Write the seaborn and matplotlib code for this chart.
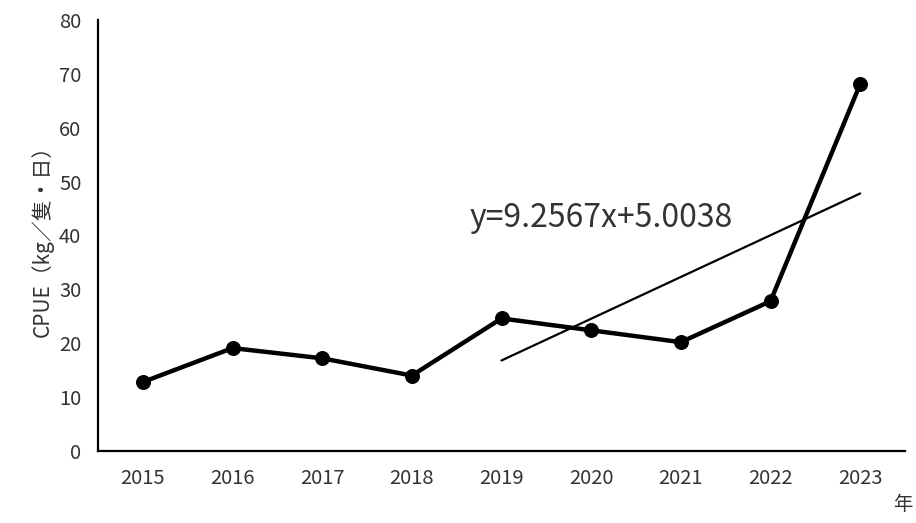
import numpy as np
import pandas as pd
import matplotlib
matplotlib.use('Agg')
import matplotlib.pyplot as plt
import seaborn as sns

# data
years = ['2015', '2016', '2017', '2018', '2019', '2020', '2021', '2022', '2023']
cpue = [12.8, 19.1, 17.2, 14.0, 24.6, 22.4, 20.2, 27.8, 68.1]
trend_years = ['2019', '2023']
trend_vals = [16.8, 47.8]
trend_label = 'y=9.2567x+5.0038'
y_ticks = [0, 10, 20, 30, 40, 50, 60, 70, 80]

sns.set_style('white')
plt.rcParams['font.family'] = ['Noto Sans CJK JP', 'DejaVu Sans']

df = pd.DataFrame({'pos': np.arange(len(years)), 'cpue': cpue})
tf = pd.DataFrame({'pos': [years.index(y) for y in trend_years], 'val': trend_vals})

fig = plt.figure(figsize=(9.16, 5.23), dpi=100)
ax = fig.add_axes([0.107, 0.1377, 0.881, 0.8241])

sns.lineplot(data=tf, x='pos', y='val', color='black', lw=1.6, ax=ax)
sns.lineplot(data=df, x='pos', y='cpue', color='black', lw=3.2, marker='o',
             markersize=10, markeredgecolor='black', ax=ax)

ax.set_xlim(-0.5, len(years) - 0.5)
ax.set_ylim(0, 80)
ax.set_yticks(y_ticks)
ax.set_xticks(np.arange(len(years)))
ax.set_xticklabels(years)
ax.set_xticks(np.arange(len(years) + 1) - 0.5, minor=True)
ax.tick_params(axis='x', which='major', length=0, pad=12, labelsize=14.5, colors='#333333')
ax.tick_params(axis='x', which='minor', length=6, width=1.3, direction='in', color='black')
ax.tick_params(axis='y', which='major', length=6, width=1.3, direction='in', pad=12,
               labelsize=14.5, colors='black', labelcolor='#333333')
for s in ['top', 'right']:
    ax.spines[s].set_visible(False)
for s in ['left', 'bottom']:
    ax.spines[s].set_linewidth(1.6)
    ax.spines[s].set_color('black')

ax.set_xlabel('')
ax.set_ylabel('CPUE（kg／隻・日）', fontsize=15, color='#333333', labelpad=4)
ax.text(3.64, 43.3, trend_label, fontsize=23, color='#333333', va='center')
fig.text(0.986, 0.035, '年', fontsize=14, color='#333333', ha='center', va='center')

fig.savefig('out.png', dpi=100)
